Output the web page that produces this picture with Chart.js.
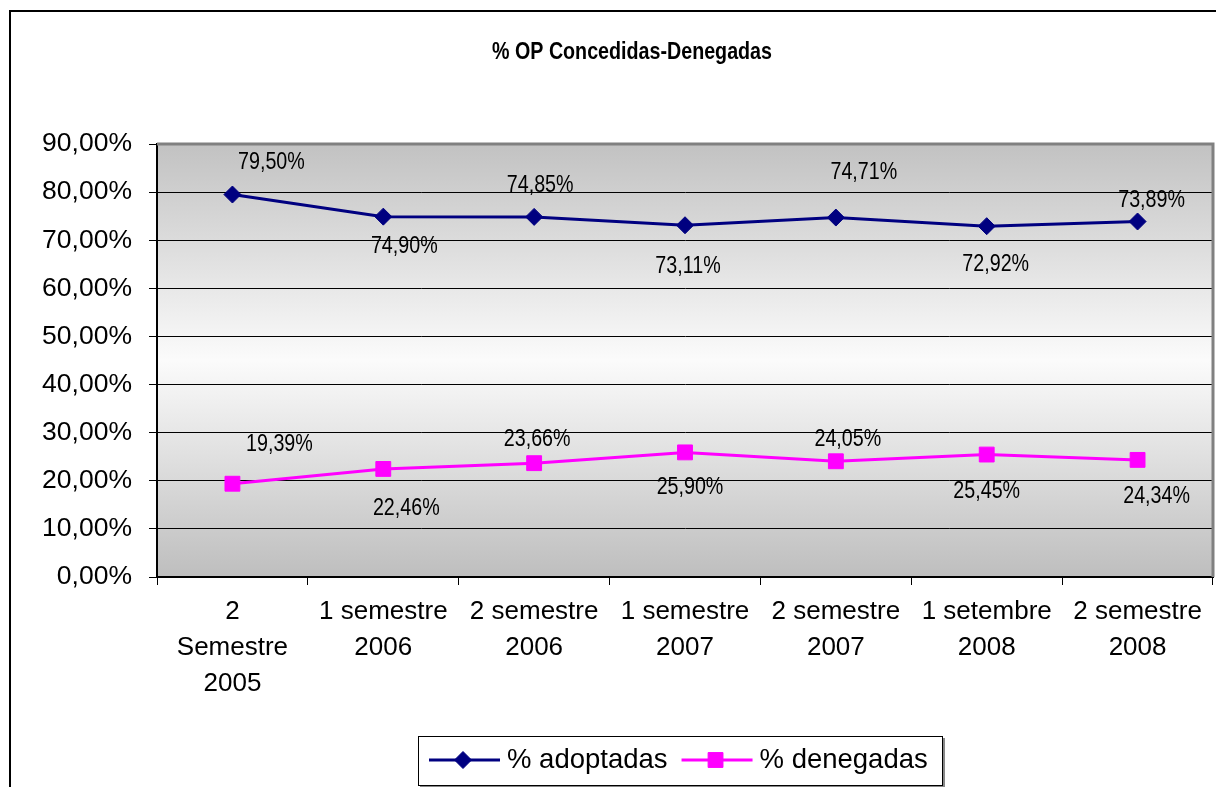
<!DOCTYPE html>
<html>
<head>
<meta charset="utf-8">
<title>% OP Concedidas-Denegadas</title>
<script src="https://cdn.jsdelivr.net/npm/chart.js@4.4.1/dist/chart.umd.min.js"></script>
<style>
    html, body { margin: 0; padding: 0; background: #fff; }
    canvas { display: block; }
</style>
</head>
<body>
<canvas id="opChart" width="1216" height="787"></canvas>
<script>
/**
 * % OP Concedidas-Denegadas line chart
 */

const titulo = '% OP Concedidas-Denegadas';
const periodos = [
    ['2', 'Semestre', '2005'],
    ['1 semestre', '2006'],
    ['2 semestre', '2006'],
    ['1 semestre', '2007'],
    ['2 semestre', '2007'],
    ['1 setembre', '2008'],
    ['2 semestre', '2008']
];
const adoptadas = [79.50, 74.90, 74.85, 73.11, 74.71, 72.92, 73.89];
const denegadas = [19.39, 22.46, 23.66, 25.90, 24.05, 25.45, 24.34];
const yTicks = [0, 10, 20, 30, 40, 50, 60, 70, 80, 90];

// label nudges (dx, dy) relative to each point, like the hand-placed Excel labels
const adoptadasLabelPos = [[39, -32], [21, 30], [6, -32], [3, 41], [28, -45], [9, 38], [14, -21]];
const denegadasLabelPos = [[47, -39], [23, 39], [3, -24], [5, 35], [12, -22], [0, 37], [19, 36]];

const ARIAL = '"Liberation Sans", Arial, sans-serif';
const NARROW_SCALE = 0.82; // fake Arial Narrow by squeezing Arial

function pct(v) {
    return v.toFixed(2).replace('.', ',') + '%';
}

// draw text horizontally squeezed around (x, y)
function narrowText(ctx, text, x, y, k) {
    ctx.save();
    ctx.translate(x, y);
    ctx.scale(k || NARROW_SCALE, 1);
    ctx.fillText(text, 0, 0);
    ctx.restore();
}

document.addEventListener('DOMContentLoaded', function() {
    let canvas = document.getElementById('opChart');

    // frame, title and gradient plot background
    const backdrop = {
        id: 'backdrop',
        beforeDraw(chart) {
            let ctx = chart.ctx;
            let a = chart.chartArea;
            ctx.save();
            ctx.fillStyle = '#fff';
            ctx.fillRect(0, 0, chart.width, chart.height);
            ctx.strokeStyle = '#000';
            ctx.lineWidth = 2;
            ctx.strokeRect(10, 11, chart.width + 20, chart.height + 20);

            let g = ctx.createLinearGradient(0, a.top, 0, a.bottom);
            g.addColorStop(0, '#c2c2c2');
            g.addColorStop(0.5, '#fbfbfb');
            g.addColorStop(1, '#bebebe');
            ctx.fillStyle = g;
            ctx.fillRect(a.left, a.top, a.right - a.left, a.bottom - a.top);

            ctx.fillStyle = '#000';
            ctx.font = 'bold 24px ' + ARIAL;
            ctx.textAlign = 'center';
            ctx.textBaseline = 'middle';
            narrowText(ctx, titulo, 632, 52, 0.82);
            ctx.restore();
        },
        beforeDatasetsDraw(chart) {
            let ctx = chart.ctx;
            let a = chart.chartArea;
            ctx.save();
            ctx.strokeStyle = '#808080';
            ctx.lineWidth = 3;
            ctx.beginPath();
            ctx.moveTo(a.left, a.top);
            ctx.lineTo(a.right, a.top);
            ctx.lineTo(a.right, a.bottom);
            ctx.stroke();
            ctx.restore();
        }
    };

    // value labels next to points
    const valueLabels = {
        id: 'valueLabels',
        afterDatasetsDraw(chart) {
            let ctx = chart.ctx;
            ctx.save();
            ctx.font = '24px ' + ARIAL;
            ctx.fillStyle = '#000';
            ctx.textAlign = 'center';
            ctx.textBaseline = 'middle';
            chart.data.datasets.forEach(function(ds, i) {
                let meta = chart.getDatasetMeta(i);
                meta.data.forEach(function(pt, j) {
                    let off = ds.labelPos[j];
                    narrowText(ctx, pct(ds.data[j]), pt.x + off[0], pt.y + off[1]);
                });
            });
            ctx.restore();
        }
    };

    // boxed legend with line + marker, drawn at the bottom
    const boxLegend = {
        id: 'boxLegend',
        afterDraw(chart) {
            let ctx = chart.ctx;
            let h = Chart.helpers;
            let y = 760;
            ctx.save();
            ctx.fillStyle = '#888';
            ctx.fillRect(420, 738, 525, 50);
            ctx.fillStyle = '#fff';
            ctx.fillRect(418, 736, 525, 50);
            ctx.strokeStyle = '#000';
            ctx.lineWidth = 1;
            ctx.strokeRect(418.5, 736.5, 524, 49);

            let x = 429;
            ctx.font = '27.5px ' + ARIAL;
            ctx.textBaseline = 'middle';
            chart.data.datasets.forEach(function(ds) {
                ctx.strokeStyle = ds.borderColor;
                ctx.lineWidth = 3;
                ctx.beginPath();
                ctx.moveTo(x, y);
                ctx.lineTo(x + 71, y);
                ctx.stroke();
                ctx.fillStyle = ds.pointBackgroundColor;
                ctx.strokeStyle = ds.pointBorderColor;
                ctx.lineWidth = 1;
                h.drawPoint(ctx, {
                    pointStyle: ds.pointStyle,
                    radius: ds.pointRadius,
                    borderWidth: 1
                }, x + 34, y);
                ctx.fillStyle = '#000';
                ctx.fillText(ds.label, x + 78, y);
                x += 78 + ctx.measureText(ds.label).width + 14;
            });
            ctx.restore();
        }
    };

    Chart.defaults.font.family = ARIAL;
    Chart.defaults.color = '#000';

    new Chart(canvas, {
        type: 'line',
        data: {
            labels: periodos,
            datasets: [{
                label: '% adoptadas',
                data: adoptadas,
                labelPos: adoptadasLabelPos,
                borderColor: '#000080',
                backgroundColor: '#000080',
                borderWidth: 3,
                pointStyle: 'rectRot',
                pointRadius: 8.5,
                pointHoverRadius: 8.5,
                pointBorderWidth: 1,
                pointBackgroundColor: '#000080',
                pointBorderColor: '#000080',
                tension: 0
            }, {
                label: '% denegadas',
                data: denegadas,
                labelPos: denegadasLabelPos,
                borderColor: '#ff00ff',
                backgroundColor: '#ff00ff',
                borderWidth: 3,
                pointStyle: 'rect',
                pointRadius: 10.5,
                pointHoverRadius: 10.5,
                pointBorderWidth: 1,
                pointBackgroundColor: '#ff00ff',
                pointBorderColor: '#ff00ff',
                tension: 0
            }]
        },
        options: {
            responsive: false,
            animation: false,
            events: [],
            layout: {
                autoPadding: false,
                padding: { left: 0, right: 3, top: 144, bottom: 0 }
            },
            plugins: {
                legend: { display: false },
                tooltip: { enabled: false },
                title: { display: false }
            },
            scales: {
                x: {
                    offset: true,
                    grid: {
                        offset: true,
                        drawOnChartArea: false,
                        tickLength: 8,
                        color: '#000'
                    },
                    border: { color: '#000', width: 2 },
                    ticks: {
                        autoSkip: false,
                        maxRotation: 0,
                        padding: 9,
                        font: { size: 26, lineHeight: 1.385 }
                    },
                    afterFit(scale) {
                        scale.height = 210;
                        scale.paddingLeft = 0;
                        scale.paddingRight = 0;
                    }
                },
                y: {
                    min: 0,
                    max: 90,
                    afterBuildTicks(scale) {
                        scale.ticks = yTicks.map(function(v) { return { value: v }; });
                    },
                    grid: {
                        color: function(c) { return c.tick && c.tick.value === 90 ? '#808080' : '#000'; },
                        tickColor: '#000',
                        tickLength: 8,
                        lineWidth: 1
                    },
                    border: { color: '#000', width: 2 },
                    ticks: {
                        padding: 17,
                        font: { size: 26.5 },
                        callback: function(v) { return pct(v); }
                    },
                    afterFit(scale) {
                        scale.width = 157;
                    }
                }
            }
        },
        plugins: [backdrop, valueLabels, boxLegend]
    });

});
</script>
</body>
</html>
